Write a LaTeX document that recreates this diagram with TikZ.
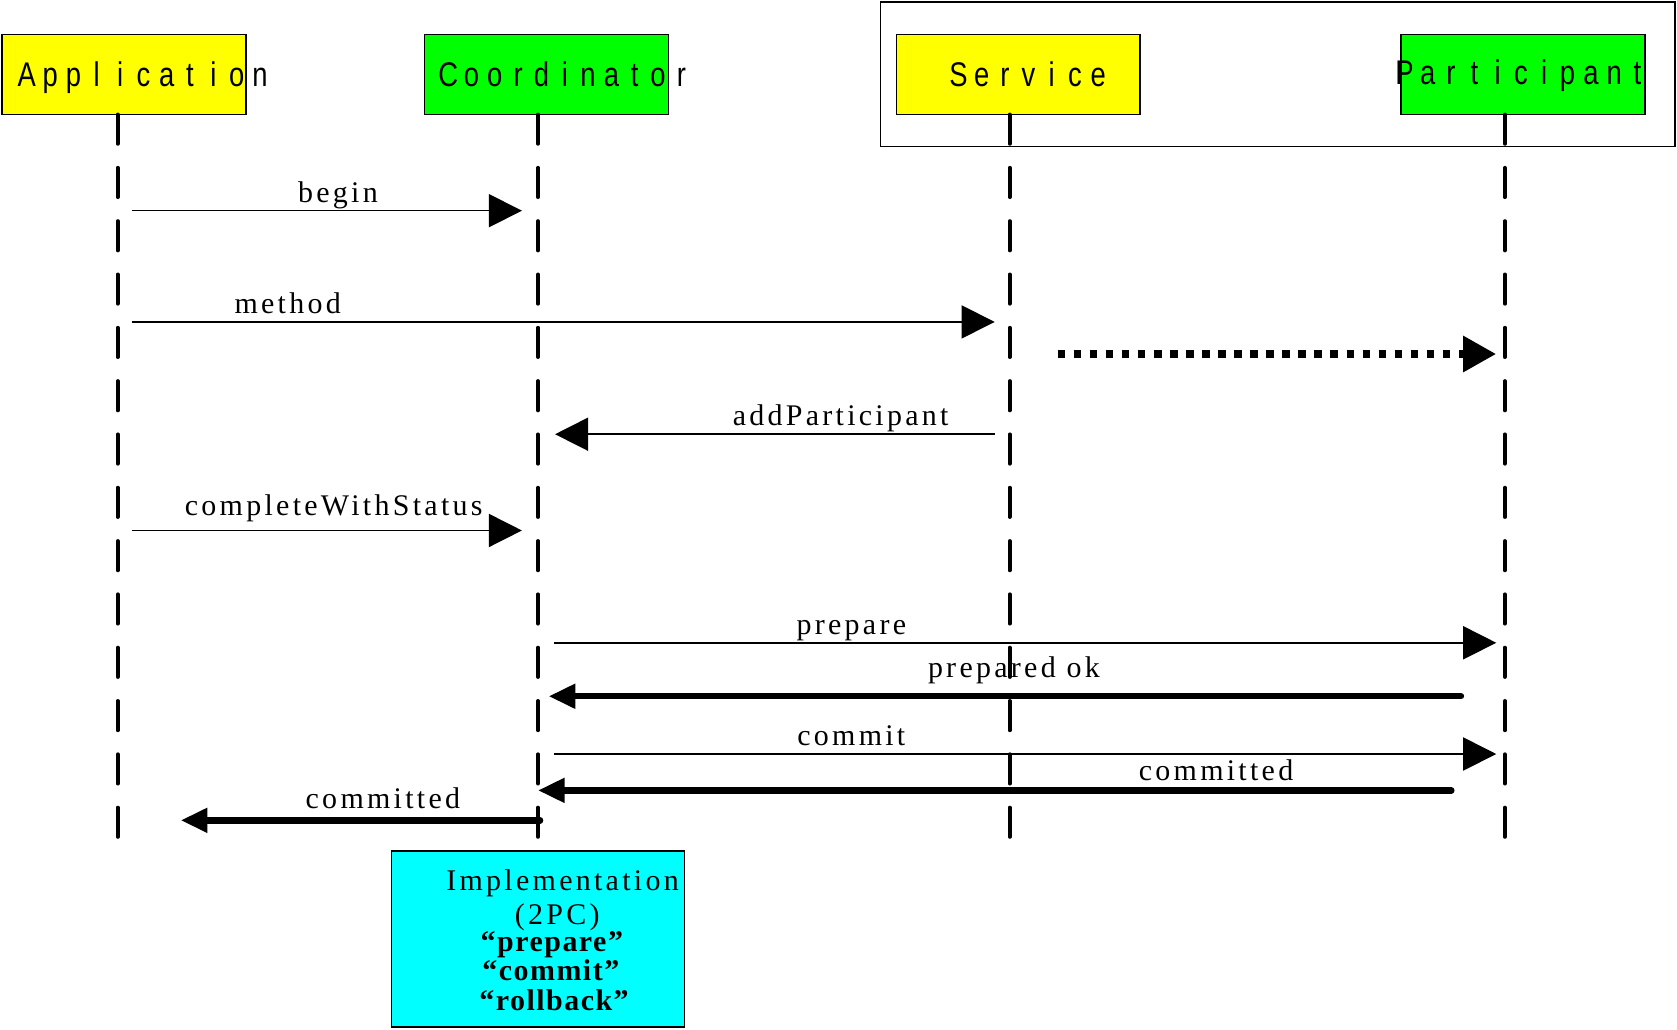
\documentclass[tikz,border=0pt]{standalone}
\usepackage{fontspec}
\usetikzlibrary{arrows.meta}
\setmainfont{Liberation Serif}[LetterSpace=11]
\newfontfamily\quotefont{Liberation Serif}[LetterSpace=5]
\newfontfamily\hdrfont{Liberation Sans}[FakeStretch=0.8]
\definecolor{boxyellow}{RGB}{255,255,0}
\definecolor{boxgreen}{RGB}{0,255,0}
\definecolor{boxcyan}{RGB}{0,255,255}
% set each letter of a header centred in a fixed-width cell
\def\cellrun#1{\ifx\relax#1\else\makebox[21.8pt][c]{#1}\expandafter\cellrun\fi}
\begin{document}
\begin{tikzpicture}[x=1pt,y=-1pt,
  objbox/.style={draw=black, line width=1.3pt, minimum width=228pt, minimum height=75pt, inner sep=0pt, outer sep=0pt},
  hdr/.style={font=\hdrfont\fontsize{32pt}{32pt}\selectfont, anchor=base west, inner sep=0pt},
  lbl/.style={font=\fontsize{28pt}{30pt}\selectfont, anchor=base, inner sep=0pt},
  impltext/.style={font=\fontsize{28pt}{30pt}\selectfont, anchor=base, inner sep=0pt},
  implbold/.style={font=\quotefont\bfseries\fontsize{28pt}{30pt}\selectfont, anchor=base, inner sep=0pt},
  lifeline/.style={line width=3.5pt, line cap=round, dash pattern=on 27.5pt off 22.35pt},
  msg/.style={line width=1.5pt, -{Triangle[length=31pt,width=31pt]}},
  reply/.style={line width=6pt, line cap=round, -{Triangle[length=25pt,width=22pt]}},
  async/.style={line width=8pt, dash pattern=on 7pt off 8pt, -{Triangle[length=31pt,width=32pt]}}
]
\useasboundingbox (0,0) rectangle (1568,963);

% object boxes
\node[draw=black, line width=1.3pt, minimum width=743pt, minimum height=135pt, inner sep=0pt] (grp) at (1194.5,69.5) {};
\node[objbox, fill=boxyellow] (app) at (116,69.5) {};
\node[objbox, fill=boxgreen] (coo) at (511,69.5) {};
\node[objbox, fill=boxyellow] (svc) at (952,69.5) {};
\node[objbox, fill=boxgreen] (par) at (1424,69.5) {};

\node[hdr] (appname) at (14,81) {\cellrun Application\relax};
\node[hdr] (cooname) at (408,81) {\cellrun Coordinator\relax};
\node[hdr] (svcname) at (885,81) {\cellrun Service\relax};
\node[hdr] (parname) at (1302,79) {\cellrun Participant\relax};

% lifelines
\coordinate (append) at (110,782.5);
\coordinate (cooend) at (503,782.5);
\coordinate (svcend) at (944,782.5);
\coordinate (parend) at (1407,782.5);
\draw[lifeline] (app.south -| append) -- (append);
\draw[lifeline] (coo.south -| cooend) -- (cooend);
\draw[lifeline] (svc.south -| svcend) -- (svcend);
\draw[lifeline] (par.south -| parend) -- (parend);

% messages
\draw[msg] (123,197) -- (488,197);
\node[lbl] (lbegin) at (316,189.5) {begin};

\draw[msg] (123,301) -- (930,301);
\node[lbl] (lmethod) at (269,293) {method};

\draw[async] (989,331) -- (1399,331);

\draw[msg] (930,406) -- (519,406);
\node[lbl] (ladd) at (786,398) {addParticipant};

\draw[msg] (123,496) -- (488,496);
\node[lbl] (lcomplete) at (312,482) {completeWithStatus};

\draw[msg] (518,601) -- (1399,601);
\node[lbl] (lprepare) at (796,593) {prepare};

\draw[reply] (1366,651) -- (513,651);
\node[lbl] (lprepok) at (948,633) {prepared ok};

\draw[msg] (518,705) -- (1399,705);
\node[lbl] (lcommit) at (796,697) {commit};

\draw[reply] (1357,739) -- (503,739);
\node[lbl] (lcommitted) at (1137,730) {committed};

\draw[reply] (505,767) -- (169,767);
\node[lbl] (lcommittedapp) at (358,756) {committed};

% implementation note
\node[draw=black, line width=1.3pt, fill=boxcyan, minimum width=274pt, minimum height=164.5pt, inner sep=0pt] (impl) at (503,878) {};
\node[impltext] (impl1) at (526,833) {Implementation};
\node[impltext] (impl2) at (521,864) {(2PC)};
\node[implbold] (impl3) at (516,890) {“prepare”};
\node[implbold] (impl4) at (515,917) {“commit”};
\node[implbold] (impl5) at (518,944.5) {“rollback”};
\end{tikzpicture}
\end{document}
